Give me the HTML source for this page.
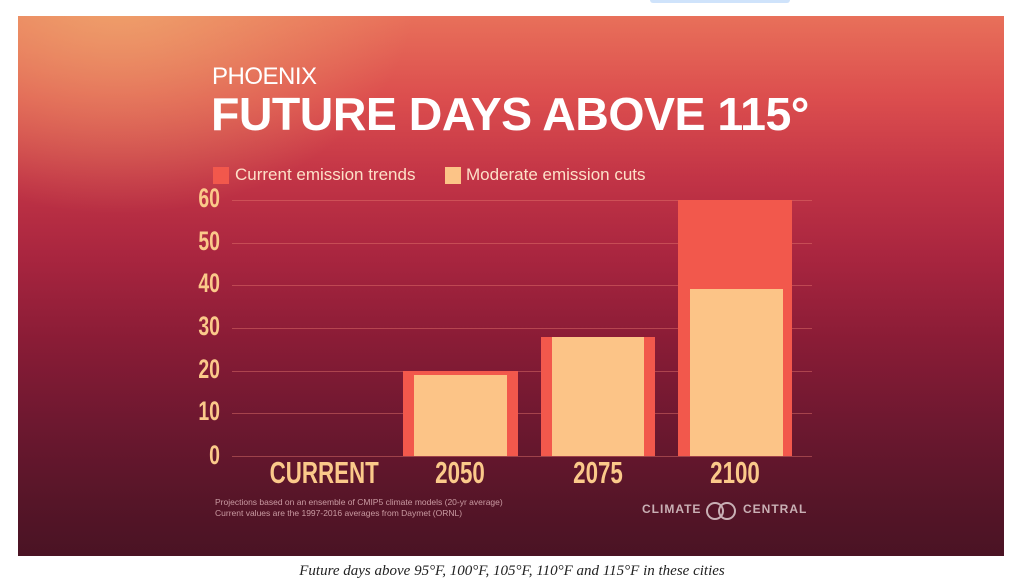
<!DOCTYPE html>
<html><head><style>
body{margin:0;width:1024px;height:583px;background:#fff;position:relative;overflow:hidden;font-family:"Liberation Sans",sans-serif}
#p{position:absolute;left:18px;top:16px;width:986px;height:540px;overflow:hidden;
background:linear-gradient(180deg,#e8705a 0%,#dc4e4e 15%,#c23446 30%,#a8253f 45%,#8a1c36 60%,#6e1830 75%,#561528 90%,#4a1324 100%)}
#glow{position:absolute;left:-200px;top:-250px;width:600px;height:450px;background:radial-gradient(ellipse at center,rgba(240,170,110,.85),rgba(240,170,110,0) 70%)}
.t{position:absolute;color:#fff;white-space:nowrap}
.y{position:absolute;left:180px;width:40px;text-align:right;color:#fbc98a;font:bold 27px "Liberation Sans Narrow","Liberation Sans",sans-serif;transform:scaleX(.72);transform-origin:right}
.g{position:absolute;left:232px;width:580px;height:1px;background:rgba(230,120,110,.45)}
.c{position:absolute;top:455px;color:#fbc98a;font:bold 31px "Liberation Sans Narrow","Liberation Sans",sans-serif;text-align:center;width:140px;transform:scaleX(.72)}
.r{position:absolute;background:#f2584c}
.m{position:absolute;background:#fcc487}
</style></head><body>
<div style="position:absolute;left:650px;top:0;width:140px;height:3px;background:#cfe3fb;border-radius:0 0 4px 4px"></div>
<div id="p"><div id="glow"></div></div>
<div class="t" style="left:212px;top:63px;font-size:24px;font-weight:300;letter-spacing:-.5px">PHOENIX</div>
<div class="t" style="left:211px;top:87px;font-size:46px;font-weight:bold;letter-spacing:-.5px;transform:scaleX(1.01);transform-origin:left">FUTURE DAYS ABOVE 115°</div>
<div style="position:absolute;left:213px;top:167px;width:16px;height:17px;background:#f2584c"></div>
<div class="t" style="left:235px;top:165px;font-size:17px;color:#fde0c8">Current emission trends</div>
<div style="position:absolute;left:445px;top:167px;width:16px;height:17px;background:#fcc487"></div>
<div class="t" style="left:466px;top:165px;font-size:17px;color:#fde0c8">Moderate emission cuts</div>
<div class="g" style="top:200px"></div><div class="g" style="top:243px"></div><div class="g" style="top:285px"></div><div class="g" style="top:328px"></div><div class="g" style="top:371px"></div><div class="g" style="top:413px"></div><div class="g" style="top:456px"></div>
<div class="y" style="top:183px">60</div><div class="y" style="top:226px">50</div><div class="y" style="top:268px">40</div><div class="y" style="top:311px">30</div><div class="y" style="top:354px">20</div><div class="y" style="top:396px">10</div><div class="y" style="top:440px">0</div>
<div class="r" style="left:403px;top:371px;width:115px;height:85px"></div>
<div class="m" style="left:414px;top:375px;width:93px;height:81px"></div>
<div class="r" style="left:541px;top:337px;width:114px;height:119px"></div>
<div class="m" style="left:552px;top:337px;width:92px;height:119px"></div>
<div class="r" style="left:678px;top:200px;width:114px;height:256px"></div>
<div class="m" style="left:690px;top:289px;width:93px;height:167px"></div>
<div class="c" style="left:250px">CURRENT</div>
<div class="c" style="left:390px">2050</div>
<div class="c" style="left:528px">2075</div>
<div class="c" style="left:665px">2100</div>
<div class="t" style="left:215px;top:497px;font-size:8.5px;line-height:11px;color:#c99aa2">Projections based on an ensemble of CMIP5 climate models (20-yr average)<br>Current values are the 1997-2016 averages from Daymet (ORNL)</div>
<div class="t" style="left:642px;top:502px;font-size:12px;font-weight:bold;color:#c9b0b5;letter-spacing:1px">CLIMATE</div>
<div style="position:absolute;left:706px;top:502px;width:14px;height:14px;border:2px solid #c9b0b5;border-radius:50%"></div>
<div style="position:absolute;left:718px;top:502px;width:14px;height:14px;border:2px solid #c9b0b5;border-radius:50%"></div>
<div class="t" style="left:743px;top:502px;font-size:12px;font-weight:bold;color:#c9b0b5;letter-spacing:1px">CENTRAL</div>
<div class="t" style="left:0;width:1024px;text-align:center;top:563px;font:italic 15px 'Liberation Serif',serif;color:#222">Future days above 95°F, 100°F, 105°F, 110°F and 115°F in these cities</div>
</body></html>
